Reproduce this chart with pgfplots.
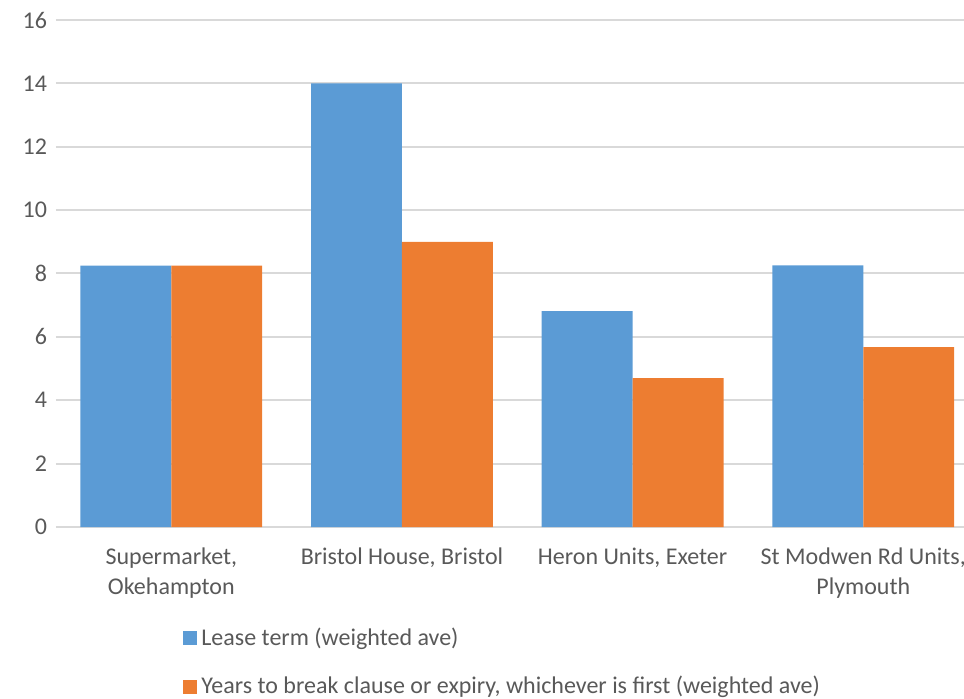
\documentclass[border=0pt]{standalone}
\usepackage{fontspec}
\setmainfont{Carlito}
\usepackage{pgfplots}
\pgfplotsset{compat=1.18}

\definecolor{leaseblue}{HTML}{5B9BD5}
\definecolor{breakorange}{HTML}{ED7D31}
\definecolor{gridgray}{HTML}{D9D9D9}
\definecolor{textgray}{HTML}{595959}

\begin{document}
\begin{tikzpicture}
\useasboundingbox (-28bp,-86bp) rectangle (454bp,263.5bp);
\begin{axis}[
    at={(0,0)}, anchor=south west,
    scale only axis,
    width=461.3bp, height=253.5bp,
    ybar=0pt,
    bar width=0.394,
    xmin=-0.5, xmax=3.5,
    ymin=0, ymax=16,
    ytick={0,2,...,16},
    xtick=data,
    xticklabels={{Supermarket,\\Okehampton},{Bristol House, Bristol},{Heron Units, Exeter},{St Modwen Rd Units,\\Plymouth}},
    tick label style={font=\fontsize{12bp}{15bp}\selectfont, text=textgray},
    xticklabel style={align=center, anchor=north, yshift=-7bp},
    yticklabel style={xshift=-1bp},
    major tick length=0pt,
    axis line style={draw=none},
    ymajorgrids,
    grid style={gridgray, line width=1bp},
    /pgf/number format/assume math mode=true,
    legend cell align=left,
    legend style={draw=none, fill=none, at={(0.1377,-0.19)}, anchor=north west,
        font=\fontsize{12bp}{14bp}\selectfont, text=textgray,
        row sep=10bp, inner sep=0pt,
        /tikz/every even column/.append style={column sep=1bp}},
    legend image code/.code={\fill[#1] (0bp,-3.5bp) rectangle (7bp,3.5bp);},
]
\addplot[fill=leaseblue, draw=none] coordinates {(0,8.25) (1,14) (2,6.81) (3,8.26)};
\addlegendentry{Lease term (weighted ave)}
\addplot[fill=breakorange, draw=none] coordinates {(0,8.25) (1,9) (2,4.70) (3,5.68)};
\addlegendentry{Years to break clause or expiry, whichever is first (weighted ave)}
\end{axis}
\end{tikzpicture}
\end{document}
